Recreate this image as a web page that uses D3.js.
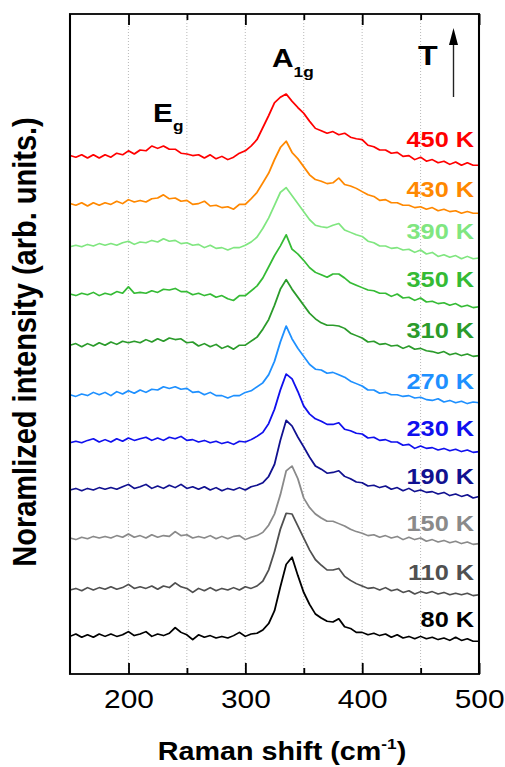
<!DOCTYPE html>
<html>
<head>
<meta charset="utf-8">
<script src="https://cdn.jsdelivr.net/npm/d3@7"></script>
<style>
  html, body { margin: 0; padding: 0; background: #fff; }
  svg { display: block; font-family: "Liberation Sans", Arial, sans-serif; }
</style>
</head>
<body>
<div id="chart"></div>
<script>
// wavenumber grid (cm-1)
const shifts = d3.range(150, 501, 5);

const temps = ["80 K", "110 K", "150 K", "190 K", "230 K", "270 K", "310 K", "350 K", "390 K", "430 K", "450 K"];
const colors = ["#000000", "#505050", "#8a8a8a", "#111190", "#1010ee", "#1e90ff", "#2b9b2b", "#35bb35", "#80e680", "#ff8800", "#ff0000"];
const offsets = [0.47, 1.05, 1.70, 2.30, 2.89, 3.49, 4.11, 4.75, 5.34, 5.88, 6.48];

const s80 = [0, 0.03, -0.01, 0.02, -0.01, 0.03, 0, 0.03, 0, 0.02, 0.06, 0.01, 0.03, 0.06, 0, 0.03, 0.01, 0.04, 0.11, 0.05, 0.02, -0.04, 0.02, -0.01, 0.01, -0.02, 0, -0.02, 0.01, 0.05, 0, 0.03,
  0.04, 0.08, 0.16, 0.32, 0.62, 0.9, 0.99, 0.76, 0.55, 0.4, 0.28, 0.23, 0.19, 0.18, 0.22, 0.12, 0.1, 0.05,
  0.05, 0.02, 0.04, 0.01, 0.03, -0.01, 0.02, -0.02, 0, -0.03, 0, -0.03, -0.01, -0.04, -0.02, -0.05, -0.01, -0.05, -0.03, -0.06, -0.06];
const s110 = [0, 0.02, -0.01, 0.03, 0, 0.03, 0.01, 0.04, 0.01, 0.03, 0.07, 0.02, 0.04, 0.02, 0.05, 0.01, 0.05, 0.03, 0.09, 0.04, 0.02, -0.03, 0.02, -0.01, 0.03, -0.01, 0.02, 0, 0.03, 0, 0.04, 0.02,
  0.05, 0.11, 0.25, 0.48, 0.76, 0.96, 0.95, 0.8, 0.65, 0.5, 0.38, 0.31, 0.25, 0.25, 0.27, 0.17, 0.12, 0.08,
  0.05, 0.02, 0.03, 0, 0.03, -0.01, 0.01, -0.03, -0.01, -0.05, -0.02, -0.04, -0.02, -0.05, -0.03, -0.06, -0.04, -0.06, -0.04, -0.07, -0.06];
const s150 = [0, -0.02, 0.01, -0.01, 0.02, 0, 0.02, 0, 0.03, 0.01, 0.05, 0.01, 0.03, 0, 0.04, 0.01, 0.03, 0.02, 0.08, 0.03, 0.04, 0, 0.02, 0, 0.03, -0.01, 0.02, -0.01, 0.02, 0.03, -0.02, 0.01,
  0.03, 0.07, 0.16, 0.3, 0.54, 0.84, 0.9, 0.74, 0.5, 0.38, 0.3, 0.25, 0.21, 0.21, 0.18, 0.15, 0.11, 0.08,
  0.06, 0.03, 0.04, 0.01, 0.03, 0, 0.02, -0.02, 0.01, -0.02, 0, -0.04, -0.02, -0.05, -0.03, -0.06, -0.04, -0.07, -0.05, -0.08, -0.07];
const s190 = [0, 0.02, -0.01, 0.02, 0, 0.03, 0.01, 0.03, 0.01, 0.04, 0.07, 0.02, 0.04, 0.07, 0.02, 0.05, 0.02, 0.06, 0.03, 0.07, 0.02, 0.04, 0.01, 0.04, 0, 0.03, -0.01, 0.02, 0, 0.03, 0, 0.04,
  0.06, 0.09, 0.17, 0.32, 0.62, 0.87, 0.8, 0.66, 0.54, 0.41, 0.3, 0.26, 0.21, 0.22, 0.24, 0.17, 0.14, 0.1,
  0.09, 0.05, 0.06, 0.03, 0.05, 0.01, 0.03, -0.01, 0.02, -0.02, 0, -0.03, -0.02, -0.05, -0.03, -0.07, -0.05, -0.08, -0.06, -0.1, -0.08];
const s230 = [0, 0.02, 0, 0.03, 0.05, 0.01, 0.04, 0.01, 0.05, 0.02, 0.06, 0.03, 0.05, 0.07, 0.03, 0.06, 0.03, 0.07, 0.05, 0.08, 0.03, 0.04, 0.01, 0.03, 0, 0.02, -0.01, 0.01, -0.02, 0.02, 0.01, 0.04,
  0.08, 0.13, 0.24, 0.42, 0.66, 0.86, 0.8, 0.64, 0.46, 0.36, 0.3, 0.27, 0.23, 0.23, 0.25, 0.17, 0.15, 0.12,
  0.11, 0.06, 0.07, 0.03, 0.04, 0.01, 0.01, -0.03, -0.02, -0.07, -0.04, -0.07, -0.06, -0.09, -0.07, -0.1, -0.08, -0.11, -0.09, -0.12, -0.11];
const s270 = [0, -0.02, 0.01, -0.01, 0.03, 0, 0.03, -0.01, 0.04, 0.01, 0.05, 0.02, 0.06, 0.03, 0.07, 0.06, 0.1, 0.08, 0.1, 0.07, 0.08, 0.03, 0.04, 0, 0.03, -0.01, -0.01, -0.04, -0.01, -0.01, 0.03, 0.05,
  0.1, 0.15, 0.25, 0.42, 0.66, 0.86, 0.7, 0.58, 0.48, 0.38, 0.32, 0.31, 0.27, 0.28, 0.25, 0.22, 0.17, 0.14,
  0.11, 0.06, 0.06, 0.02, 0.03, 0, 0, -0.02, -0.01, -0.04, -0.03, -0.06, -0.07, -0.05, -0.09, -0.07, -0.1, -0.08, -0.11, -0.09, -0.1];
const s310 = [0, 0.02, -0.02, 0.02, -0.01, 0.03, 0, 0.04, 0.01, 0.05, 0.03, 0.05, 0.03, 0.07, 0.04, 0.08, 0.05, 0.09, 0.07, 0.08, 0.03, 0.04, -0.01, 0.02, -0.02, 0.01, -0.04, -0.01, -0.05, 0, 0, 0.05,
  0.1, 0.2, 0.32, 0.5, 0.7, 0.82, 0.7, 0.6, 0.5, 0.4, 0.33, 0.28, 0.25, 0.25, 0.24, 0.21, 0.15, 0.12,
  0.09, 0.04, 0.05, 0.01, 0.02, -0.01, 0, -0.04, -0.01, -0.05, -0.04, -0.07, -0.08, -0.1, -0.08, -0.12, -0.1, -0.13, -0.11, -0.14, -0.13];
const s350 = [0, -0.02, 0.01, -0.01, 0.02, -0.02, 0.01, -0.01, 0.03, 0.01, 0.09, 0.01, 0.02, 0.01, 0.04, 0.02, 0.06, 0.05, 0.07, 0.03, 0.03, -0.01, 0.01, -0.02, 0, -0.04, -0.02, -0.06, -0.08, -0.02, -0.02, 0.04,
  0.1, 0.2, 0.34, 0.48, 0.6, 0.74, 0.56, 0.5, 0.42, 0.33, 0.27, 0.24, 0.21, 0.25, 0.25, 0.2, 0.14, 0.11,
  0.08, 0.05, 0.04, 0.01, 0.01, -0.03, 0, -0.05, -0.04, -0.08, -0.05, -0.1, -0.09, -0.12, -0.11, -0.14, -0.12, -0.16, -0.14, -0.17, -0.16];
const s390 = [0, 0.02, 0, 0.03, 0.01, 0.04, 0.02, 0.04, 0.02, 0.05, 0.07, 0.03, 0.06, 0.05, 0.08, 0.06, 0.1, 0.07, 0.08, 0.04, 0.05, 0.02, 0.03, -0.01, 0.02, -0.02, -0.01, -0.04, -0.01, -0.01, 0.02, 0.06,
  0.12, 0.23, 0.36, 0.52, 0.68, 0.74, 0.64, 0.54, 0.44, 0.34, 0.27, 0.25, 0.24, 0.27, 0.29, 0.21, 0.18, 0.15,
  0.13, 0.07, 0.05, 0.01, 0.01, -0.02, -0.01, -0.04, -0.03, -0.07, -0.04, -0.09, -0.07, -0.12, -0.1, -0.13, -0.11, -0.15, -0.12, -0.15, -0.14];
const s430 = [0, -0.02, 0.01, -0.03, 0.01, -0.02, 0.01, -0.01, 0.03, 0, 0.05, 0.02, 0.04, 0.02, 0.06, 0.07, 0.11, 0.06, 0.07, 0.03, 0.04, -0.01, 0, 0.03, -0.03, -0.02, -0.05, -0.04, -0.07, -0.01, -0.01, 0.06,
  0.14, 0.26, 0.38, 0.55, 0.7, 0.78, 0.64, 0.56, 0.46, 0.36, 0.3, 0.28, 0.25, 0.26, 0.32, 0.24, 0.22, 0.19,
  0.15, 0.11, 0.09, 0.04, 0.05, 0.01, 0.01, -0.02, -0.02, -0.05, -0.04, -0.07, -0.05, -0.09, -0.07, -0.1, -0.09, -0.12, -0.1, -0.12, -0.12];
const s450 = [0, -0.02, 0.01, -0.03, 0.01, -0.03, 0.01, -0.02, 0.03, 0.01, 0.06, 0.02, 0.07, 0.06, 0.12, 0.09, 0.12, 0.08, 0.08, 0.03, 0.02, 0, 0.01, -0.03, 0.01, -0.04, -0.01, -0.05, -0.02, 0.03, 0.06, 0.12,
  0.2, 0.35, 0.5, 0.66, 0.73, 0.77, 0.68, 0.6, 0.53, 0.43, 0.34, 0.31, 0.28, 0.3, 0.26, 0.28, 0.23, 0.21,
  0.2, 0.13, 0.11, 0.07, 0.07, 0.03, 0.04, -0.01, 0, -0.05, -0.02, -0.07, -0.05, -0.09, -0.07, -0.11, -0.08, -0.12, -0.09, -0.12, -0.12];

const spectra = [s80, s110, s150, s190, s230, s270, s310, s350, s390, s430, s450];

const majorTicks = [200, 300, 400, 500];
const minorTicks = [250, 350, 450];
const gridTicks = [200, 250, 300, 350, 400, 450];

// the picture is stretched sideways, so draw in a narrower box and stretch it
const S = 1.15;
const width = 505, height = 767;
const X = p => p / S;

const svg = d3.select("#chart")
  .append("svg")
  .attr("width", width)
  .attr("height", height)
  .attr("viewBox", [0, 0, width / S, height])
  .attr("preserveAspectRatio", "none");

const x = d3.scaleLinear().domain([150, 500]).range([X(70), X(479)]);
const y = d3.scaleLinear().domain([0, 8.25]).range([674, 14]);

// grid
svg.append("g")
  .selectAll("line")
  .data(gridTicks)
  .join("line")
  .attr("x1", d => x(d)).attr("x2", d => x(d))
  .attr("y1", 14).attr("y2", 674)
  .attr("stroke", "#bbbbbb")
  .attr("stroke-width", 0.9)
  .attr("stroke-dasharray", "1,2");

// spectra
const line = d3.line()
  .x((d, i) => x(shifts[i]))
  .y(d => d);

svg.append("g")
  .selectAll("path")
  .data(spectra)
  .join("path")
  .attr("d", (s, k) => line(s.map(v => y(offsets[k] + v))))
  .attr("fill", "none")
  .attr("stroke", (s, k) => colors[k])
  .attr("stroke-width", 1.6)
  .attr("stroke-linejoin", "round");

// axes
const bottomAxis = svg.append("g")
  .attr("transform", "translate(0,674)")
  .call(d3.axisBottom(x).tickValues(majorTicks).tickSize(-11).tickPadding(16));
bottomAxis.append("g").call(d3.axisBottom(x).tickValues(minorTicks).tickSize(-6).tickFormat(""));
bottomAxis.selectAll("text")
  .attr("font-size", 26)
  .attr("font-family", "Liberation Sans, Arial, sans-serif")
  .attr("fill", "#000");

const topAxis = svg.append("g")
  .attr("transform", "translate(0,14)")
  .call(d3.axisTop(x).tickValues(majorTicks).tickSize(-11).tickFormat(""));
topAxis.append("g").call(d3.axisTop(x).tickValues(minorTicks).tickSize(-6).tickFormat(""));

svg.selectAll(".domain").remove();
svg.selectAll(".tick line").attr("stroke", "#000").attr("stroke-width", 1.6);

svg.append("rect")
  .attr("x", X(70)).attr("y", 14)
  .attr("width", X(479) - X(70)).attr("height", 660)
  .attr("fill", "none")
  .attr("stroke", "#000")
  .attr("stroke-width", 1.8);

// temperature labels
const labelBase = [627, 580, 531, 484, 436, 389, 338, 287.5, 239, 197, 147];
svg.append("g")
  .selectAll("text")
  .data(temps)
  .join("text")
  .attr("x", X(474))
  .attr("y", (d, i) => labelBase[i])
  .attr("text-anchor", "end")
  .attr("font-weight", "bold")
  .attr("font-size", 22)
  .attr("fill", (d, i) => colors[i])
  .text(d => d);

// mode labels
const eg = svg.append("text")
  .attr("x", X(153)).attr("y", 122)
  .attr("font-weight", "bold").attr("font-size", 26);
eg.append("tspan").text("E");
eg.append("tspan").attr("font-size", 15).attr("dy", 9).text("g");

const a1g = svg.append("text")
  .attr("x", X(272)).attr("y", 67)
  .attr("font-weight", "bold").attr("font-size", 26);
a1g.append("tspan").text("A");
a1g.append("tspan").attr("font-size", 15).attr("dy", 10).text("1g");

svg.append("text")
  .attr("x", X(418)).attr("y", 65)
  .attr("font-weight", "bold").attr("font-size", 28)
  .text("T");

// arrow
svg.append("line")
  .attr("x1", X(453.5)).attr("x2", X(453.5))
  .attr("y1", 97).attr("y2", 40)
  .attr("stroke", "#222").attr("stroke-width", 1.2);
svg.append("path")
  .attr("d", `M${X(453.5)},28 L${X(449)},45 L${X(458)},45 Z`)
  .attr("fill", "#000");

// axis titles
const xt = svg.append("text")
  .attr("x", X(282)).attr("y", 760)
  .attr("text-anchor", "middle")
  .attr("font-weight", "bold").attr("font-size", 25);
xt.append("tspan").text("Raman shift (cm");
xt.append("tspan").attr("font-size", 15).attr("dy", -11).text("-1");
xt.append("tspan").attr("dy", 11).text(")");

svg.append("text")
  .attr("transform", `translate(${X(36)},342) rotate(-90)`)
  .attr("text-anchor", "middle")
  .attr("font-weight", "bold").attr("font-size", 29)
  .text("Noramlized intensity (arb. units.)");
</script>
</body>
</html>
